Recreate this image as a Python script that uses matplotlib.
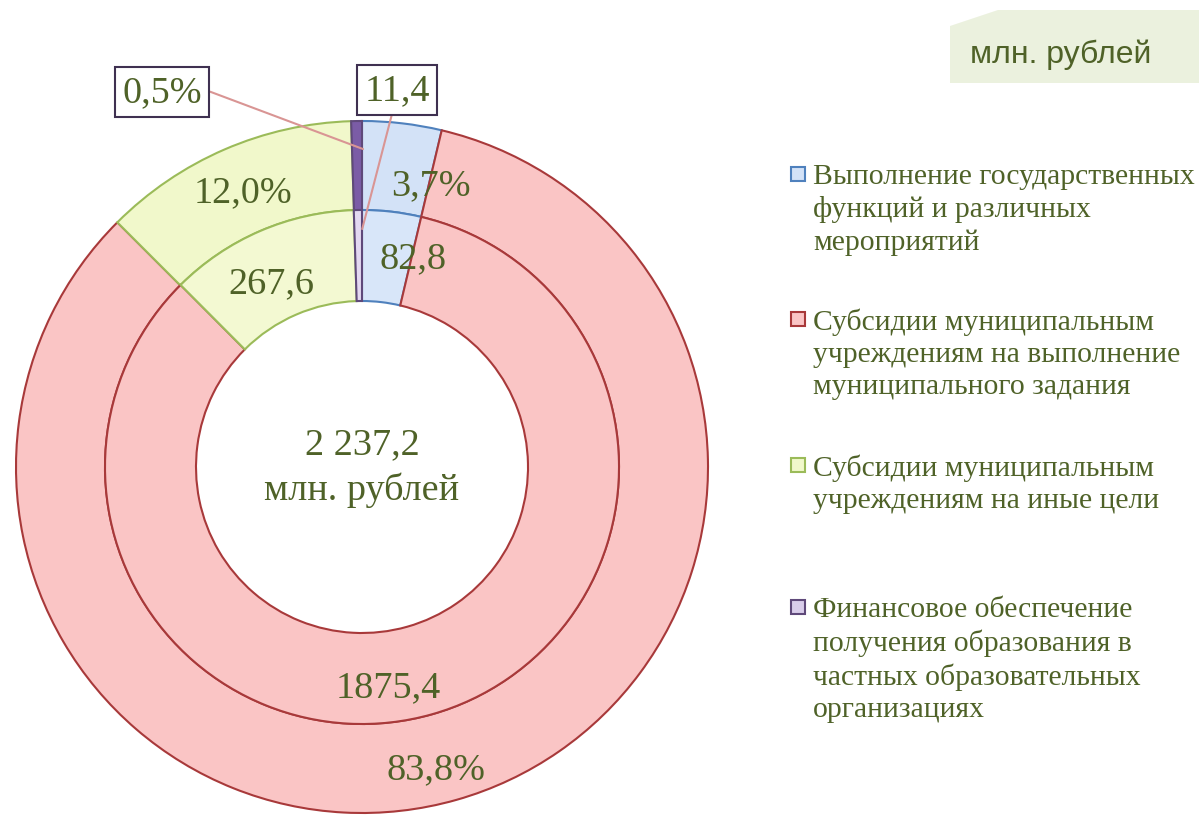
import numpy as np
import matplotlib.pyplot as plt
import matplotlib.patches as mpatches

# data
categories = ["Выполнение государственных\nфункций и различных\nмероприятий",
              "Субсидии муниципальным\nучреждениям на выполнение\nмуниципального задания",
              "Субсидии муниципальным\nучреждениям на иные цели",
              "Финансовое обеспечение\nполучения образования в\nчастных образовательных\nорганизациях"]
values = [82.8, 1875.4, 267.6, 11.4]
shares = [3.7, 83.8, 12.0, 0.5]
value_labels = ["82,8", "1875,4", "267,6", "11,4"]
share_labels = ["3,7%", "83,8%", "12,0%", "0,5%"]
total_label = "2 237,2\nмлн. рублей"
unit_label = "млн. рублей"

face_outer = ["#d3e2f7", "#fac5c5", "#f1f8cb", "#7b5ca6"]
face_inner = ["#d8e6f9", "#fac5c5", "#f3f9d2", "#e3d8f1"]
edges = ["#4f81bd", "#a8393a", "#9bbb59", "#5f497a"]
green_txt = "#4f6228"
serif = ["Liberation Serif", "DejaVu Serif"]

W, H = 1199, 820
fig = plt.figure(figsize=(W / 100, H / 100), dpi=100)

# axes box: centre at (362, 468) px, half-size 350 px
cx, cy, hs = 362, 468, 350
ax = fig.add_axes([(cx - hs) / W, (H - cy - hs) / H, 2 * hs / W, 2 * hs / H])

R_out, w_out = 346, 89
R_in, w_in = 257, 91

wo, _ = ax.pie(shares, radius=R_out, startangle=90, counterclock=False,
               colors=face_outer,
               wedgeprops=dict(width=w_out, linewidth=1.5))
wi, _ = ax.pie(values, radius=R_in, startangle=90, counterclock=False,
               colors=face_inner,
               wedgeprops=dict(width=w_in, linewidth=1.5))
for w, e in zip(wo, edges):
    w.set_edgecolor(e)
for w, e in zip(wi, edges):
    w.set_edgecolor(e)
ax.set_xlim(-hs, hs)
ax.set_ylim(-hs, hs)
ax.set_aspect("equal")
ax.axis("off")


def mid(w):
    return np.deg2rad((w.theta1 + w.theta2) / 2)


# label offsets in degrees (excel shifts some of them)
shift_out = [-7, -2, 0, 0]
shift_in = [-7, -9, 3, 0]
r_out_lab = [290, 311, 300, 0]
r_in_lab = [215, 221, 205, 0]

for i in range(3):
    a = mid(wo[i]) + np.deg2rad(shift_out[i])
    ax.text(r_out_lab[i] * np.cos(a), r_out_lab[i] * np.sin(a), share_labels[i],
            ha="center", va="center", fontsize=27.5, color=green_txt, family=serif)
    a = mid(wi[i]) + np.deg2rad(shift_in[i])
    ax.text(r_in_lab[i] * np.cos(a), r_in_lab[i] * np.sin(a), value_labels[i],
            ha="center", va="center", fontsize=27.5, color=green_txt, family=serif)

# boxed labels for the small slice
box = dict(boxstyle="square,pad=0.2", fc="white", ec="#3f3151", lw=1.5)
a = mid(wo[3])
ax.annotate(share_labels[3], xy=(318 * np.cos(a) + 6, 318 * np.sin(a)),
            xytext=(162 - cx, cy - 93), ha="center", va="center",
            fontsize=27.5, color=green_txt, family=serif, bbox=box,
            arrowprops=dict(arrowstyle="-", color="#d99594", lw=1.5,
                            shrinkA=0, shrinkB=0, relpos=(1.0, 0.6)))
a = mid(wi[3])
ax.annotate(value_labels[3], xy=(238 * np.cos(a) + 4, 238 * np.sin(a)),
            xytext=(397 - cx, cy - 91), ha="center", va="center",
            fontsize=27.5, color=green_txt, family=serif, bbox=box,
            arrowprops=dict(arrowstyle="-", color="#d99594", lw=1.5,
                            shrinkA=0, shrinkB=0, relpos=(0.45, 0.0)))

ax.text(0, 0, total_label, ha="center", va="center", fontsize=27.5,
        color=green_txt, family=serif, linespacing=1.4)

# unit box top right
poly = mpatches.Polygon([(950 / W, 1 - 84 / H), (950 / W, 1 - 27 / H),
                         (998 / W, 1 - 11 / H), (1.0, 1 - 11 / H), (1.0, 1 - 84 / H)],
                        closed=True, transform=fig.transFigure,
                        fc="#ebf1de", ec="none")
fig.add_artist(poly)
fig.text(1061 / W, 1 - 55 / H, unit_label, ha="center", va="center",
         fontsize=23, color=green_txt, family=["Liberation Sans", "DejaVu Sans"])

# legend
leg_y = [175, 320, 466, 608]
for i, lab in enumerate(categories):
    y = leg_y[i]
    sq = mpatches.Rectangle((791 / W, 1 - (y + 7) / H), 14 / W, 14 / H,
                            transform=fig.transFigure,
                            fc=face_outer[i] if i != 3 else "#d9cdea",
                            ec=edges[i], lw=1.5)
    fig.add_artist(sq)
    fig.text(813 / W, 1 - (y - 11) / H, lab, ha="left", va="top", fontsize=21.3,
             color=green_txt, family=serif, linespacing=1.3)

fig.savefig("out.png", dpi=100)
